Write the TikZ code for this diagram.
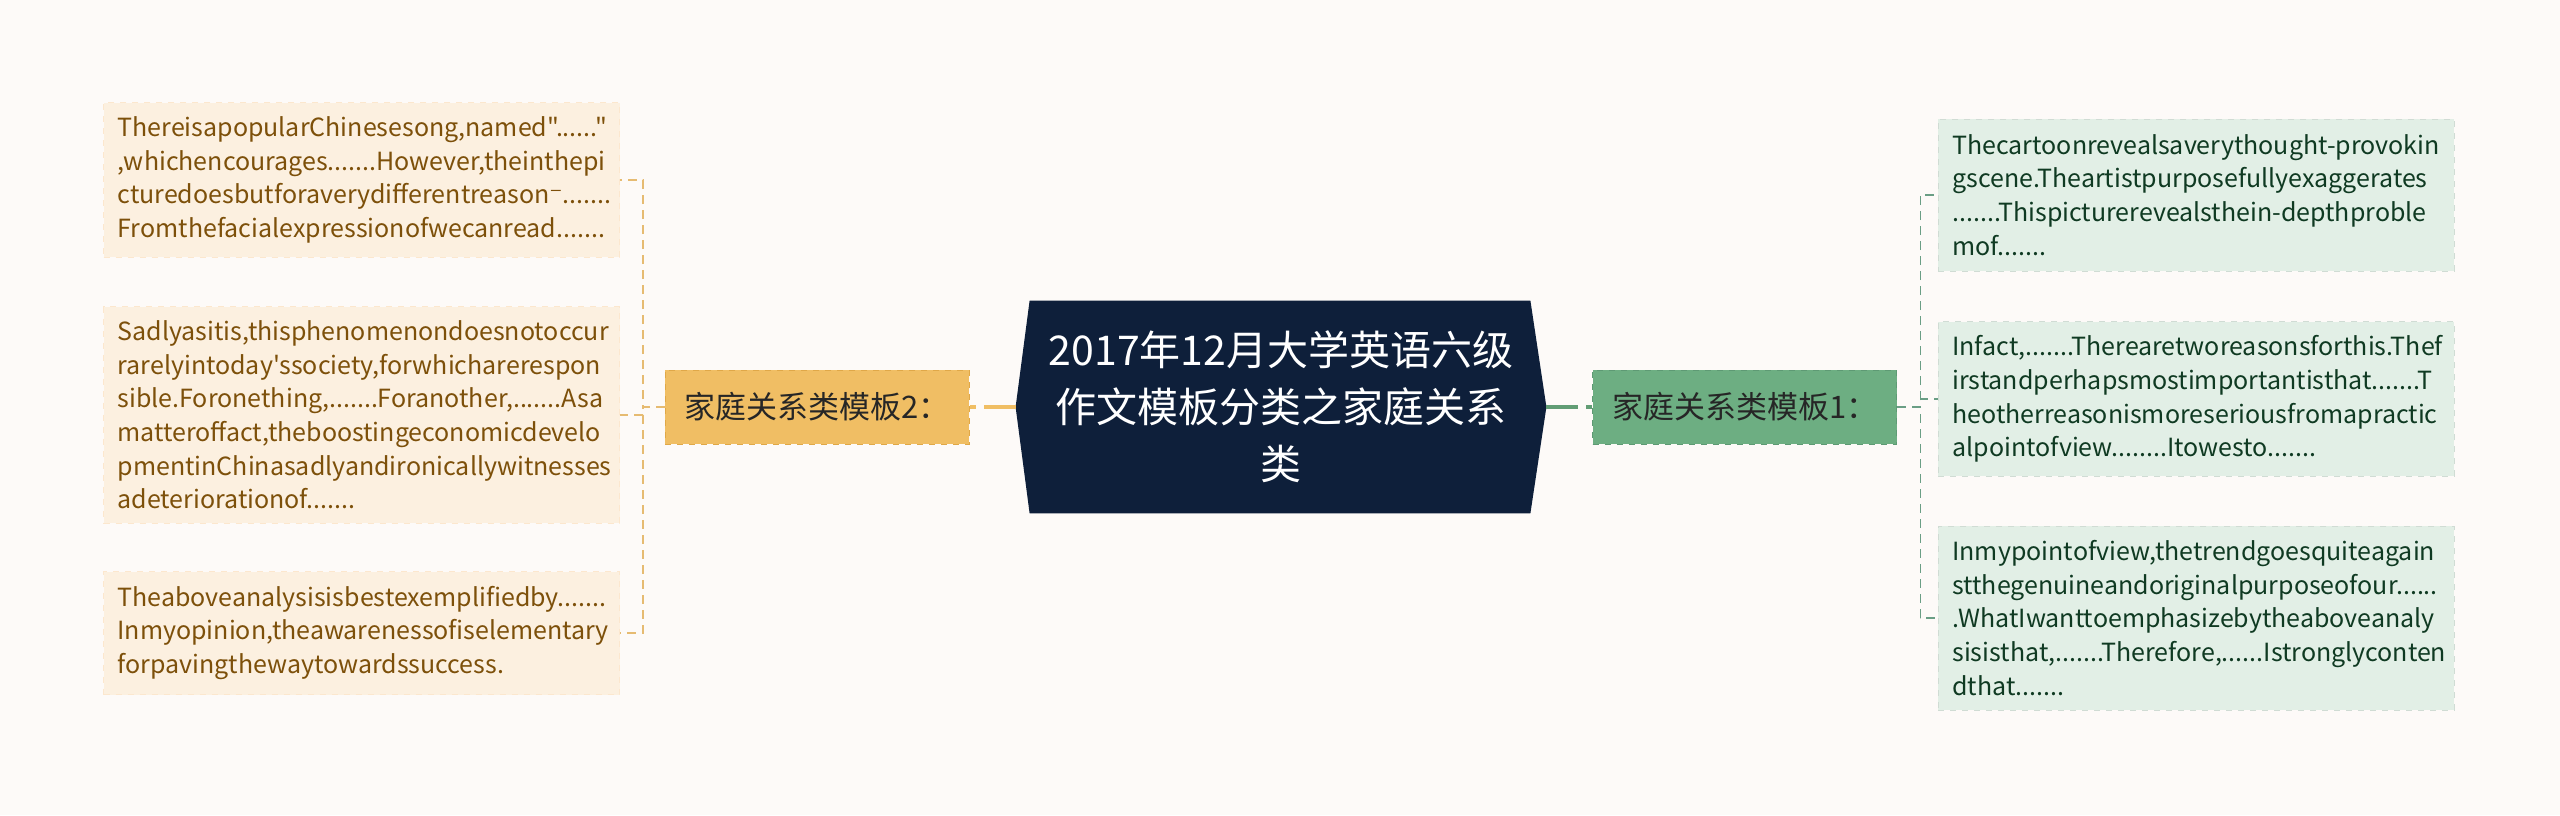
\documentclass[tikz,border=0pt]{standalone}
\usepackage{fontspec}
\setmainfont{Noto Sans CJK SC}[Ligatures=TeXOff]
\newfontfamily\symfont{DejaVu Sans}
\usetikzlibrary{positioning,backgrounds}

\definecolor{pagebg}{HTML}{FDFAF8}
\definecolor{titlebg}{HTML}{0E1F3A}
\definecolor{orangebg}{HTML}{F0BE64}
\definecolor{orangeline}{HTML}{E0A848}
\definecolor{greenbg}{HTML}{6DAE82}
\definecolor{greenline}{HTML}{5E9A74}
\definecolor{leafLbg}{HTML}{FCF0E0}
\definecolor{leafLtext}{HTML}{7D500A}
\definecolor{leafRbg}{HTML}{E2EFE6}
\definecolor{leafRtext}{HTML}{0F3A22}
\definecolor{linkL}{HTML}{E6BB72}
\definecolor{linkR}{HTML}{6A9E85}

\begin{document}
\begin{tikzpicture}[x=1pt,y=1pt,node distance=23pt,
	title/.style={minimum width=265pt, minimum height=106pt, text=white, align=center,
		font=\fontsize{20.5pt}{28.5pt}\selectfont},
	mainL/.style={fill=orangebg, draw=orangeline, dashed, minimum width=152pt, minimum height=37pt,
		text=black!85, font=\fontsize{15.5pt}{18pt}\selectfont},
	mainR/.style={mainL, fill=greenbg, draw=greenline},
	leafL/.style={fill=leafLbg, draw=leafLbg!92!orange, dashed, text=leafLtext, align=left,
		text width=244pt, inner sep=7pt, font=\fontsize{12.5pt}{16.8pt}\selectfont},
	leafR/.style={leafL, fill=leafRbg, draw=leafRbg!92!black, text=leafRtext},
	stubL/.style={draw=linkL, dash pattern=on 4.5pt off 3pt, line width=0.7pt},
	stubR/.style={stubL, draw=linkR},
	trunkL/.style={draw=orangebg, dash pattern=on 16pt off 4pt, line width=2pt},
	trunkR/.style={trunkL, draw=greenbg!90!black}]

	\useasboundingbox (0,0) rectangle (1280,-407.5);

	\node[title] (c) at (640.5,-203.5) {2017年12月大学英语六级\\作文模板分类之家庭关系\\类};
	\node[mainL] (m_2) [left=of c] {家庭关系类模板2：};
	\node[mainR] (m_1) [right=of c] {家庭关系类模板1：};

	% left leaves
	\node[leafL, minimum height=76.5pt, anchor=east] (a_1) at (310,-90)
		{ThereisapopularChinesesong,named"......"\\,whichencourages.......However,theinthepi\\cturedoesbutforaverydifferentreason{\symfont ⁻}.......\\Fromthefacialexpressionofwecanread.......};
	\node[leafL, minimum height=108pt, anchor=east] (a_2) at (310,-207.5)
		{Sadlyasitis,thisphenomenondoesnotoccur\\rarelyintoday'ssociety,forwhicharerespon\\sible.Foronething,.......Foranother,.......Asa\\matteroffact,theboostingeconomicdevelo\\pmentinChinasadlyandironicallywitnesses\\adeteriorationof.......};
	\node[leafL, minimum height=61.5pt, anchor=east] (a_3) at (310,-316.5)
		{Theaboveanalysisisbestexemplifiedby.......\\Inmyopinion,theawarenessofiselementary\\forpavingthewaytowardssuccess.};

	% right leaves
	\node[leafR, minimum height=76pt, anchor=west] (b_1) at (969,-97.5)
		{Thecartoonrevealsaverythought-provokin\\gscene.Theartistpurposefullyexaggerates\\.......Thispicturerevealsthein-depthproble\\mof.......};
	\node[leafR, minimum height=76pt, anchor=west] (b_2) at (969,-199.5)
		{Infact,.......Therearetworeasonsforthis.Thef\\irstandperhapsmostimportantisthat.......T\\heotherreasonismoreseriousfromapractic\\alpointofview........Itowesto.......};
	\node[leafR, minimum height=92pt, anchor=west] (b_3) at (969,-309)
		{Inmypointofview,thetrendgoesquiteagain\\stthegenuineandoriginalpurposeofour......\\.WhatIwanttoemphasizebytheaboveanaly\\sisisthat,.......Therefore,......Istronglyconten\\dthat.......};

	\begin{scope}[on background layer]
		\fill[pagebg] (0,0) rectangle (1280,-407.5);
		\fill[titlebg] ([xshift=7pt]c.north west) -- (c.west) -- ([xshift=7pt]c.south west)
			-- ([xshift=-8pt]c.south east) -- (c.east) -- ([xshift=-8pt]c.north east) -- cycle;
	\end{scope}

	\path[trunkL] (c.west) -- (m_2.east);
	\path[trunkR] (c.east) -- (m_1.west);
	\foreach \i in {1,2,3} {
		\path[stubL] (m_2.west) -- ++(-11,0) |- (a_\i.east);
		\path[stubR] (m_1.east) -- ++(11.5,0) |- (b_\i.west);
	}
\end{tikzpicture}
\end{document}
